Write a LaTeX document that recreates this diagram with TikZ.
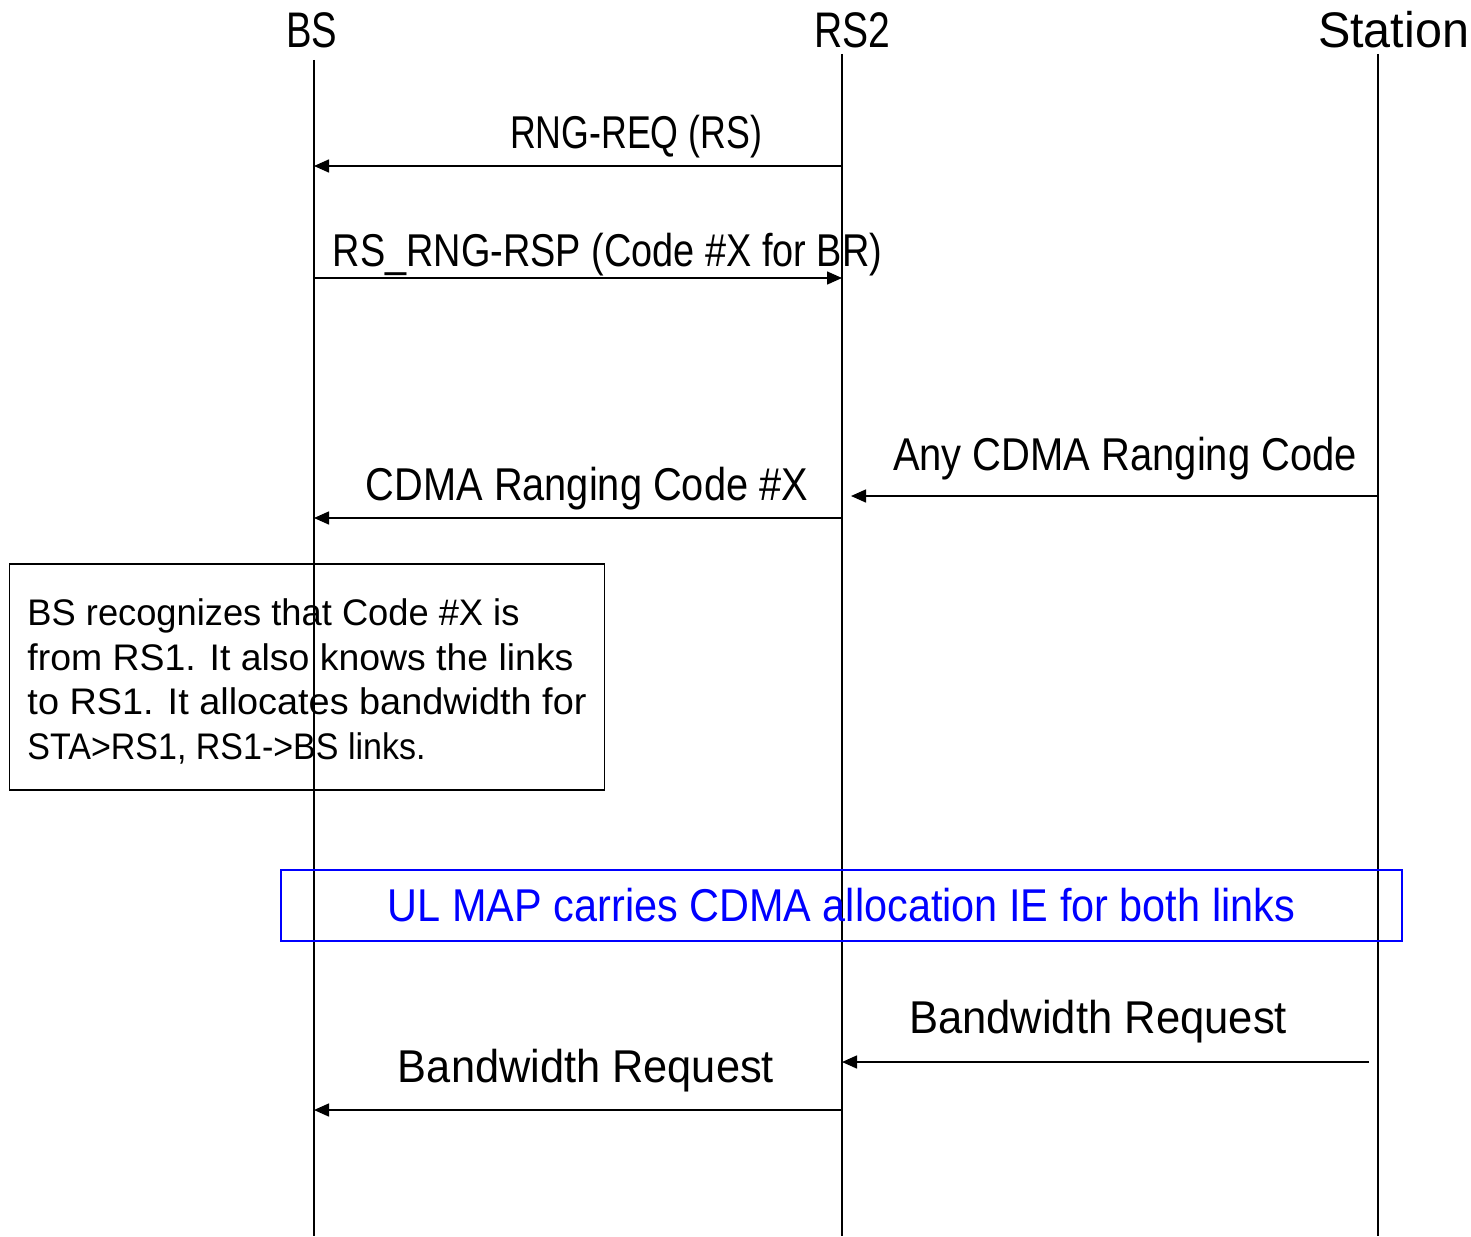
\documentclass[tikz,border=0pt]{standalone}
\usepackage{fontspec}
\usepackage{graphicx}
\setmainfont{Liberation Sans}
\usetikzlibrary{arrows.meta}
\definecolor{noteblue}{RGB}{0,0,255}
\newcommand\fitw[2]{\resizebox{#1pt}{\height}{#2}}
\begin{document}
\begin{tikzpicture}[x=1pt,y=-1pt,
  life/.style={line width=1.5pt},
  msg/.style={line width=1.5pt,-{Triangle[length=15pt,width=13pt]}},
  lbl/.style={font=\fontsize{46}{55}\selectfont,inner sep=0pt,anchor=base},
  head/.style={font=\fontsize{50}{60}\selectfont,inner sep=0pt,anchor=base},
  notebox/.style={draw,line width=1.5pt,font=\fontsize{37}{44.5}\selectfont,
    align=left,minimum width=595pt,minimum height=226pt,inner xsep=18pt},
  bluebox/.style={draw=noteblue,line width=1.5pt,text=noteblue,font=\fontsize{46}{55}\selectfont,
    minimum width=1121pt,minimum height=71pt,inner sep=0pt}]
\useasboundingbox (0,0) rectangle (1471,1236);
% headers
\node[head] (tBS) at (311.5,48) {\fitw{51}{BS}};
\node[head] (tRS) at (852,48) {\fitw{76}{RS2}};
\node[head] (tST) at (1393.5,48) {\fitw{151}{Station}};
% lifelines
\coordinate (bsT) at (314,60);   \coordinate (bsB) at (314,1236);
\coordinate (rsT) at (842,54);   \coordinate (rsB) at (842,1236);
\coordinate (stT) at (1378,54);  \coordinate (stB) at (1378,1236);
\draw[life] (bsT) -- (bsB);
\draw[life] (rsT) -- (rsB);
\draw[life] (stT) -- (stB);
% note box
\node[notebox] (note) at (307,677) {\rule{0pt}{36pt}\fitw{492}{BS recognizes that Code \#X is}\\
  \fitw{546}{from RS1. It also knows the links}\\
  \fitw{559}{to RS1. It allocates bandwidth for}\\
  \fitw{398}{STA>RS1, RS1->BS links.}};
% blue box
\node[bluebox] (ulmap) at (841.5,905.5) {\fitw{907}{UL MAP carries CDMA allocation IE for both links}};
% message end points
\coordinate (m1a) at (842,166);  \coordinate (m1b) at (314,166);
\coordinate (m2a) at (314,278);  \coordinate (m2b) at (842,278);
\coordinate (m3a) at (1378,496); \coordinate (m3b) at (851,496);
\coordinate (m4a) at (842,518);  \coordinate (m4b) at (314,518);
\coordinate (m5a) at (1369,1062);\coordinate (m5b) at (842,1062);
\coordinate (m6a) at (842,1110); \coordinate (m6b) at (314,1110);
\draw[msg] (m1a) -- (m1b);
\draw[msg] (m2a) -- (m2b);
\draw[msg] (m3a) -- (m3b);
\draw[msg] (m4a) -- (m4b);
\draw[msg] (m5a) -- (m5b);
\draw[msg] (m6a) -- (m6b);
% labels
\node[lbl] (l1) at (636,148) {\fitw{252}{RNG-REQ (RS)}};
\node[lbl] (l2) at (607.5,266) {\fitw{549}{RS\_RNG-RSP (Code \#X for BR)}};
\node[lbl] (l3) at (1125,470) {\fitw{464}{Any CDMA Ranging Code}};
\node[lbl] (l4) at (587,500) {\fitw{442}{CDMA Ranging Code \#X}};
\node[lbl] (l5) at (1098,1033) {\fitw{378}{Bandwidth Request}};
\node[lbl] (l6) at (586,1082) {\fitw{376}{Bandwidth Request}};
\end{tikzpicture}
\end{document}
